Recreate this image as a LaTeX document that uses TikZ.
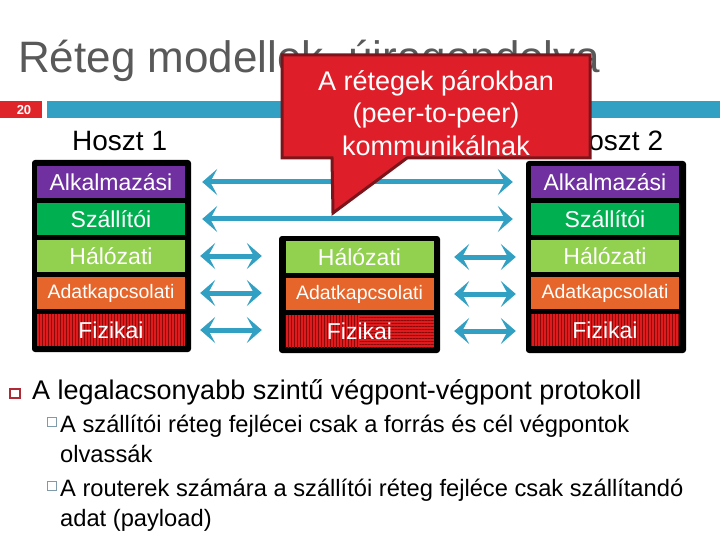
\documentclass[tikz,border=0pt]{standalone}
\usepackage{fontspec}
\setmainfont{Liberation Sans}
\usetikzlibrary{arrows.meta,patterns.meta}
\definecolor{tealbar}{HTML}{31A0C3}
\definecolor{pgred}{HTML}{E0252A}
\definecolor{titlegray}{HTML}{595959}
\definecolor{lpurple}{HTML}{7030A0}
\definecolor{lgreen}{HTML}{00B050}
\definecolor{llime}{HTML}{92D050}
\definecolor{lorange}{HTML}{E5652A}
\definecolor{lred}{HTML}{E01B1E}
\definecolor{lstripe}{HTML}{8A0A0A}
\definecolor{callfill}{HTML}{DE1F2A}
\definecolor{callborder}{HTML}{7A161B}
\definecolor{bulletred}{HTML}{B02A35}
\definecolor{subgray}{HTML}{7F9BAA}
\begin{document}
\begin{tikzpicture}[x=1pt,y=-1pt,
  layer/.style={minimum width=148pt, minimum height=32pt, inner sep=0pt, text=white,
    font=\fontsize{23}{25}\selectfont},
  vstripes/.style={fill=lred, postaction={pattern={Lines[angle=90,distance=3pt,line width=1pt]}, pattern color=lstripe}},
  stackbox/.style={fill=black, rounded corners=3pt},
  arr/.style={line width=5pt, draw=tealbar,
    {Stealth[length=15pt,width=26pt,inset=7pt]}-{Stealth[length=15pt,width=26pt,inset=7pt]}},
  plain/.style={anchor=base west, inner sep=0pt},
]
\useasboundingbox (0,0) rectangle (720,540);
\fill[white] (0,0) rectangle (720,540);

% header
\node[plain, text=titlegray, font=\fontsize{44}{50}\selectfont] (title) at (18,73) {Réteg modellek, újragondolva};
\fill[pgred] (0,101) rectangle (42,118);
\node[text=white, font=\bfseries\fontsize{13}{14}\selectfont, inner sep=0pt] (pgnum) at (24,110) {20};
\fill[tealbar] (47,101) rectangle (720,118);

\node[plain, font=\fontsize{28}{32}\selectfont] (h1) at (72,151) {Hoszt 1};
\node[plain, font=\fontsize{28}{32}\selectfont] (h2) at (568,151) {Hoszt 2};

% stacks
\fill[stackbox] (32,160) rectangle (191,352);
\fill[stackbox] (279,236) rectangle (440,353);
\fill[stackbox] (526,161) rectangle (686,353);

\node[layer, fill=lpurple] (lA) at (111,182) {Alkalmazási};
\node[layer, fill=lgreen] (lS) at (111,219) {Szállítói};
\node[layer, fill=llime] (lH) at (111,256) {Hálózati};
\node[layer, fill=lorange, font=\fontsize{19.5}{22}\selectfont] (lD) at (111,293) {Adatkapcsolati};
\node[layer, vstripes] (lF) at (111,330) {Fizikai};

\node[layer, fill=llime] (mH) at (359.5,257) {Hálózati};
\node[layer, fill=lorange, font=\fontsize{19.5}{22}\selectfont] (mD) at (359.5,294) {Adatkapcsolati};
\node[layer, fill=lred, path picture={
    \fill[pattern={Lines[angle=90,distance=3pt,line width=1pt]}, pattern color=lstripe]
      (path picture bounding box.north west) rectangle (path picture bounding box.south);
    \fill[pattern={Lines[angle=0,distance=3pt,line width=1pt]}, pattern color=lstripe]
      (path picture bounding box.north) rectangle (path picture bounding box.south east);}]
  (mF) at (359.5,331) {Fizikai};

\node[layer, fill=lpurple] (rA) at (605,182) {Alkalmazási};
\node[layer, fill=lgreen] (rS) at (605,219) {Szállítói};
\node[layer, fill=llime] (rH) at (605,256) {Hálózati};
\node[layer, fill=lorange, font=\fontsize{19.5}{22}\selectfont] (rD) at (605,293) {Adatkapcsolati};
\node[layer, vstripes] (rF) at (605,330) {Fizikai};

% arrows
\draw[arr, shorten <=17pt, shorten >=18pt] (lA.east) -- (rA.west);
\draw[arr, shorten <=17pt, shorten >=18pt] (lS.east) -- (rS.west);
\draw[arr, shorten <=15pt, shorten >=23.5pt] (lH.east) -- (lH.east -| mH.west);
\draw[arr, shorten <=15pt, shorten >=23.5pt] (lD.east) -- (lD.east -| mD.west);
\draw[arr, shorten <=15pt, shorten >=23.5pt] (lF.east) -- (lF.east -| mF.west);
\draw[arr, shorten <=20.5pt, shorten >=15pt] (mH.east) -- (mH.east -| rH.west);
\draw[arr, shorten <=20.5pt, shorten >=15pt] (mD.east) -- (mD.east -| rD.west);
\draw[arr, shorten <=20.5pt, shorten >=15pt] (mF.east) -- (mF.east -| rF.west);

% callout
\filldraw[fill=callfill, draw=callborder, line width=3pt, line join=miter]
  (282,55) -- (590,55) -- (590,158) -- (407,158) -- (333,213) -- (332,158) -- (282,158) -- cycle;
\node[text=white, align=center, inner sep=0pt, font=\fontsize{27}{32.5}\selectfont] (callout) at (436,113)
  {A rétegek párokban\\(peer-to-peer)\\kommunikálnak};

% bullets
\draw[bulletred, line width=2pt] (10,389) rectangle (20,398);
\node[plain, font=\fontsize{27}{32}\selectfont] (b1) at (32,399) {A legalacsonyabb szintű végpont-végpont protokoll};
\draw[subgray, line width=1pt] (47.5,417) rectangle (56.5,426);
\node[plain, font=\fontsize{23.7}{30}\selectfont] (s1a) at (60,432.5) {A szállítói réteg fejlécei csak a forrás és cél végpontok};
\node[plain, font=\fontsize{23.7}{30}\selectfont] (s1b) at (60,462.5) {olvassák};
\draw[subgray, line width=1pt] (47.5,481) rectangle (56.5,490);
\node[plain, font=\fontsize{23.7}{30}\selectfont] (s2a) at (60,496.5) {A routerek számára a szállítói réteg fejléce csak szállítandó};
\node[plain, font=\fontsize{23.7}{30}\selectfont] (s2b) at (60,526.5) {adat (payload)};
\end{tikzpicture}
\end{document}
